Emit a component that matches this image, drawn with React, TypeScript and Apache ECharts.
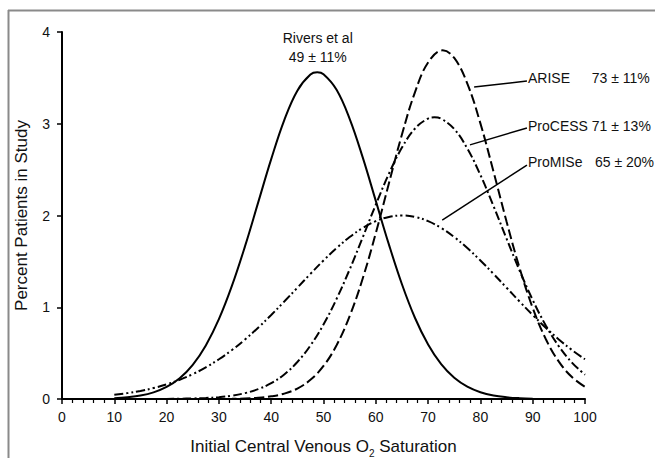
import { useEffect, useRef } from "react";
import * as echarts from "echarts";

// x positions (Initial central venous O2 saturation, %)
const xs = [10, 12.5, 15, 17.5, 20, 22.5, 25, 27.5, 30, 32.5, 35, 37.5, 40, 42.5, 45, 47.5, 50, 52.5, 55, 57.5, 60, 62.5, 65, 67.5, 70, 72.5, 75, 77.5, 80, 82.5, 85, 87.5, 90, 92.5, 95, 97.5, 100];

// Percent patients in study
const rivers = [0.009, 0.019, 0.037, 0.072, 0.131, 0.226, 0.372, 0.584, 0.87, 1.235, 1.666, 2.14, 2.614, 3.04, 3.361, 3.536, 3.54, 3.371, 3.054, 2.633, 2.159, 1.685, 1.251, 0.883, 0.594, 0.379, 0.231, 0.134, 0.074, 0.038, 0.019, 0.009, 0.004, null, null, null, null];
const arise = [0, 0, 0, 0, 0, 0, 0.0001, 0.0003, 0.001, 0.002, 0.006, 0.013, 0.029, 0.059, 0.114, 0.209, 0.36, 0.586, 0.903, 1.314, 1.808, 2.349, 2.883, 3.345, 3.667, 3.799, 3.717, 3.438, 3.004, 2.48, 1.934, 1.426, 0.993, 0.654, 0.407, 0.239, 0.133];
const process = [0, 0.0001, 0.0003, 0.0007, 0.0013, 0.003, 0.006, 0.011, 0.02, 0.037, 0.064, 0.107, 0.172, 0.268, 0.403, 0.583, 0.812, 1.091, 1.412, 1.762, 2.118, 2.454, 2.74, 2.948, 3.057, 3.055, 2.942, 2.73, 2.442, 2.104, 1.748, 1.399, 1.079, 0.802, 0.574, 0.397, 0.264];
const promise = [0.046, 0.064, 0.088, 0.119, 0.159, 0.209, 0.271, 0.345, 0.433, 0.534, 0.649, 0.777, 0.916, 1.062, 1.213, 1.364, 1.51, 1.645, 1.765, 1.864, 1.938, 1.984, 2.0, 1.984, 1.938, 1.864, 1.765, 1.645, 1.51, 1.364, 1.213, 1.062, 0.916, 0.777, 0.649, 0.534, 0.433];

// peaks [x, y]
const riversPeak = [48.8, 3.56];
const arisePeak = [72.8, 3.8];
const processPeak = [71.2, 3.07];
const promisePeak = [65, 2.0];

const seriesNames = ["Rivers et al", "ARISE", "ProCESS", "ProMISe"];

// annotation texts
const riversLabel = ["Rivers et al", "49 ± 11%"];
const legendNames = ["ARISE", "ProCESS 71 ± 13%", "ProMISe"];
const legendValues = ["73 ± 11%", "", "65 ± 20%"];

// leader lines in data coordinates: [curve point, label point]
const leaders: number[][][] = [
  [[78.8, 3.4], [88.9, 3.466]],
  [[78.0, 2.77], [88.9, 2.954]],
  [[72.7, 1.95], [88.9, 2.55]],
];
const labelY = [3.5, 2.975, 2.586];
const nameX = 89.1;
const valueX = [101.3, 0, 101.9];

const FONT = "Liberation Sans, Arial, sans-serif";

export default function App() {
  const ref = useRef<HTMLDivElement>(null);
  useEffect(() => {
    const chart = echarts.init(ref.current!, null, { renderer: "svg" });
    const pairs = (ys: (number | null)[], peak: number[]) => {
      const pts = xs.map((x, i) => [x, ys[i]]).filter((p) => p[1] !== null) as number[][];
      const filtered = pts.filter((p) => Math.abs(p[0] - peak[0]) > 0.3);
      filtered.push(peak);
      filtered.sort((a, b) => a[0] - b[0]);
      return filtered;
    };
    const mk = (name: string, ys: (number | null)[], peak: number[], type: any) => ({
      name,
      type: "line",
      data: pairs(ys, peak),
      smooth: 0.4,
      showSymbol: false,
      symbol: "none",
      lineStyle: { color: "#000", width: 2, type },
      z: 3,
    });
    chart.setOption({
      animation: false,
      backgroundColor: "#fff",
      grid: { left: 62, right: 70, top: 32, bottom: 59, containLabel: false, outerBoundsMode: "none" },
      xAxis: {
        type: "value",
        min: 0,
        max: 100,
        interval: 10,
        name: "Initial Central Venous O{sub|2} Saturation",
        nameLocation: "middle",
        nameGap: 39,
        nameTextStyle: {
          fontFamily: FONT,
          fontSize: 17,
          color: "#111",
          rich: { sub: { fontFamily: FONT, fontSize: 10, color: "#111", verticalAlign: "bottom", padding: [0, 0, -3, 0] } },
        },
        axisLine: { lineStyle: { color: "#000", width: 2 } },
        axisTick: { show: true, length: 5, inside: false, lineStyle: { color: "#000", width: 1.5 } },
        minorTick: { show: true, splitNumber: 5, length: 4, lineStyle: { color: "#000", width: 1.2 } },
        axisLabel: { fontFamily: FONT, fontSize: 14, color: "#111", margin: 11 },
        splitLine: { show: false },
      },
      yAxis: {
        type: "value",
        min: 0,
        max: 4,
        interval: 1,
        name: "Percent Patients in Study",
        nameLocation: "middle",
        nameRotate: 90,
        nameGap: 32,
        nameTextStyle: { fontFamily: FONT, fontSize: 17, color: "#111" },
        axisLine: { show: true, lineStyle: { color: "#000", width: 2 } },
        axisTick: { show: true, length: 5, lineStyle: { color: "#000", width: 1.5 } },
        axisLabel: { fontFamily: FONT, fontSize: 14, color: "#111", margin: 12 },
        splitLine: { show: false },
      },
      series: [
        mk(seriesNames[0], rivers, riversPeak, "solid"),
        mk(seriesNames[1], arise, arisePeak, [10, 4]),
        mk(seriesNames[2], process, processPeak, [9, 3, 2, 3]),
        mk(seriesNames[3], promise, promisePeak, [9, 3, 2, 3, 2, 3]),
      ],
    });

    const px = (x: number, y: number) => chart.convertToPixel({ gridIndex: 0 }, [x, y]) as number[];
    const graphics: any[] = [];
    // outer frame (top and left edges visible)
    graphics.push({ type: "line", shape: { x1: 8, y1: 10.5, x2: 655, y2: 10.5 }, style: { stroke: "#8a8a8a", lineWidth: 2 }, silent: true });
    graphics.push({ type: "line", shape: { x1: 8.5, y1: 10, x2: 8.5, y2: 458 }, style: { stroke: "#8a8a8a", lineWidth: 2 }, silent: true });
    // Rivers label
    const r1 = px(48.9, 3.93);
    const r2 = px(48.9, 3.73);
    graphics.push({ type: "text", x: r1[0], y: r1[1], style: { text: riversLabel[0], font: `14px ${FONT}`, fill: "#111", align: "center", verticalAlign: "middle" } });
    graphics.push({ type: "text", x: r2[0], y: r2[1], style: { text: riversLabel[1], font: `14px ${FONT}`, fill: "#111", align: "center", verticalAlign: "middle" } });
    // leader lines & labels
    leaders.forEach((ld, i) => {
      const a = px(ld[0][0], ld[0][1]);
      const b = px(ld[1][0], ld[1][1]);
      graphics.push({ type: "line", shape: { x1: a[0], y1: a[1], x2: b[0], y2: b[1] }, style: { stroke: "#000", lineWidth: 1.5 } });
      const t = px(nameX, labelY[i]);
      graphics.push({ type: "text", x: t[0], y: t[1], style: { text: legendNames[i], font: `14px ${FONT}`, fill: "#111", align: "left", verticalAlign: "middle" } });
      if (legendValues[i]) {
        const v = px(valueX[i], labelY[i]);
        graphics.push({ type: "text", x: v[0], y: v[1], style: { text: legendValues[i], font: `14px ${FONT}`, fill: "#111", align: "left", verticalAlign: "middle" } });
      }
    });
    chart.setOption({ graphic: graphics });
    return () => chart.dispose();
  }, []);
  return <div ref={ref} style={{ position: "fixed", left: 0, top: 0, width: 655, height: 458 }} />;
}
